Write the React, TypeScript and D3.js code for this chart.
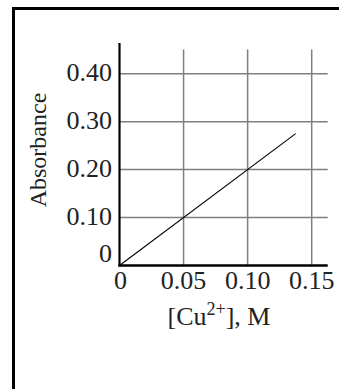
import React, { useRef, useEffect } from "react";
import * as d3 from "d3";

// concentration of Cu2+ (M) and measured absorbance
const concentration = [0, 0.1375];
const absorbance = [0, 0.275];

const xTicks = [0, 0.05, 0.1, 0.15];
const xTickLabels = ["0", "0.05", "0.10", "0.15"];
const yTicks = [0, 0.1, 0.2, 0.3, 0.4];
const yTickLabels = ["0", "0.10", "0.20", "0.30", "0.40"];

const FONT = "'Liberation Serif', 'Times New Roman', serif";

const App = () => {
  const ref = useRef<SVGSVGElement>(null);

  useEffect(() => {
    const svg = d3.select(ref.current);
    svg.selectAll("*").remove();

    const width = 339;
    const height = 389;
    svg.attr("width", width).attr("height", height);

    const x = d3.scaleLinear().domain([0, 0.15]).range([119.5, 311.7]);
    const y = d3.scaleLinear().domain([0, 0.4]).range([265.5, 73.7]);
    const gridRight = x(0.15) + 16;

    // frame (only top + left edges are visible)
    svg
      .append("line")
      .attr("x1", 12)
      .attr("x2", width)
      .attr("y1", 8.5)
      .attr("y2", 8.5)
      .attr("stroke", "#000")
      .attr("stroke-width", 3);
    svg
      .append("line")
      .attr("x1", 13.5)
      .attr("x2", 13.5)
      .attr("y1", 7)
      .attr("y2", height)
      .attr("stroke", "#000")
      .attr("stroke-width", 3);

    // grid
    svg
      .selectAll(".hgrid")
      .data(yTicks.slice(1))
      .enter()
      .append("line")
      .attr("x1", x(0))
      .attr("x2", gridRight)
      .attr("y1", (d) => y(d))
      .attr("y2", (d) => y(d))
      .attr("stroke", "#7f7f7f")
      .attr("stroke-width", 1.5);

    svg
      .selectAll(".vgrid")
      .data(xTicks.slice(1))
      .enter()
      .append("line")
      .attr("x1", (d) => x(d))
      .attr("x2", (d) => x(d))
      .attr("y1", 49.5)
      .attr("y2", y(0))
      .attr("stroke", "#7f7f7f")
      .attr("stroke-width", 1.5);

    // axes
    svg
      .append("line")
      .attr("x1", x(0))
      .attr("x2", x(0))
      .attr("y1", 43)
      .attr("y2", y(0) + 1)
      .attr("stroke", "#000")
      .attr("stroke-width", 2.2);
    svg
      .append("line")
      .attr("x1", x(0) - 1)
      .attr("x2", gridRight)
      .attr("y1", y(0))
      .attr("y2", y(0))
      .attr("stroke", "#000")
      .attr("stroke-width", 2.5);

    // data line
    const pts: [number, number][] = concentration.map((c, i) => [c, absorbance[i]]);
    svg
      .append("path")
      .datum(pts)
      .attr("fill", "none")
      .attr("stroke", "#000")
      .attr("stroke-width", 1.1)
      .attr(
        "d",
        d3
          .line<[number, number]>()
          .x((d) => x(d[0]))
          .y((d) => y(d[1]))
      );

    // y tick labels
    svg
      .selectAll(".ylab")
      .data(yTicks)
      .enter()
      .append("text")
      .attr("x", 112)
      .attr("y", (d) => (d === 0 ? y(d) - 4 : y(d) + 7))
      .attr("text-anchor", "end")
      .style("font-family", FONT)
      .style("font-size", "26px")
      .style("fill", "#222")
      .text((d, i) => yTickLabels[i]);

    // x tick labels
    svg
      .selectAll(".xlab")
      .data(xTicks)
      .enter()
      .append("text")
      .attr("x", (d) => x(d) + (d === 0 ? 1 : 0))
      .attr("y", 289)
      .attr("text-anchor", "middle")
      .style("font-family", FONT)
      .style("font-size", "26px")
      .style("fill", "#222")
      .text((d, i) => xTickLabels[i]);

    // axis titles
    svg
      .append("text")
      .attr("transform", "translate(46,150) rotate(-90)")
      .attr("text-anchor", "middle")
      .style("font-family", FONT)
      .style("font-size", "24px")
      .style("fill", "#222")
      .text("Absorbance");

    const xt = svg
      .append("text")
      .attr("x", 219)
      .attr("y", 325)
      .attr("text-anchor", "middle")
      .style("font-family", FONT)
      .style("font-size", "26px")
      .style("fill", "#222");
    xt.append("tspan").text("[Cu");
    xt.append("tspan").attr("dy", -10).style("font-size", "18px").text("2+");
    xt.append("tspan").attr("dy", 10).text("], M");
  }, []);

  return (
    <div style={{ position: "absolute", left: 0, top: 0 }}>
      <svg ref={ref} style={{ display: "block" }} />
    </div>
  );
};

export default App;
